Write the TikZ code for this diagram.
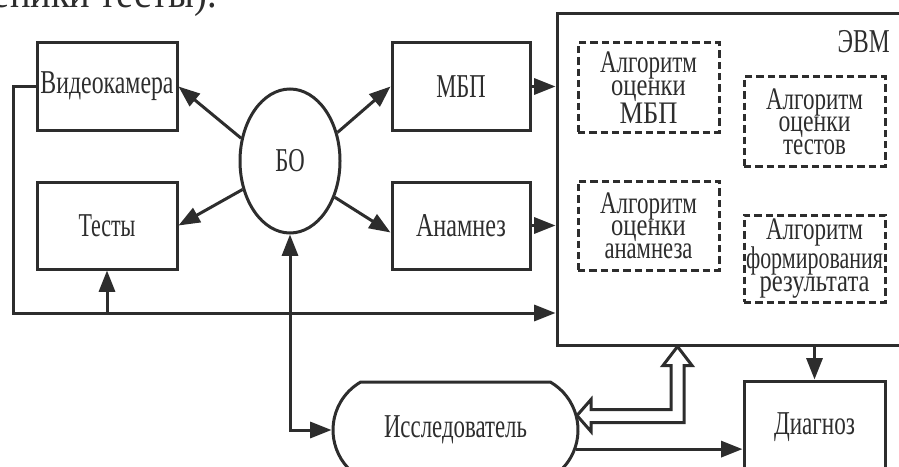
\documentclass[tikz,border=0pt]{standalone}
\usepackage{fontspec}
\setmainfont{Liberation Serif}
\usepackage{graphicx}
\usepackage{tikz}
\usetikzlibrary{arrows.meta,shapes.geometric,shapes.misc,calc}

\definecolor{ink}{RGB}{45,45,45}
% narrow type, as in the scan: squeeze a word to a given width
\newcommand{\fitw}[2]{\resizebox{#1}{\height}{#2}}

\tikzset{
  blk/.style={draw=ink, line width=2.25pt, inner sep=0pt, minimum width=105pt, minimum height=65.25pt, text=ink, font=\fontsize{25}{27}\selectfont},
  algbox/.style={draw=ink, line width=2.25pt, dash pattern=on 5.5pt off 3pt, inner sep=0pt, minimum width=105.75pt, minimum height=66.75pt, align=center, text=ink, font=\fontsize{23.5}{15.5}\selectfont},
  link/.style={draw=ink, line width=2.25pt, -{Triangle[length=16pt,width=12pt]}},
  twoway/.style={draw=ink, line width=2.25pt, {Triangle[length=16pt,width=12pt]}-{Triangle[length=16pt,width=12pt]}}
}

\begin{document}
\begin{tikzpicture}[x=0.75pt,y=0.75pt,yscale=-1,xscale=1]
\useasboundingbox (0,0) rectangle (899,467);

% Text Node (line of the page above, cut off)
\node [anchor=base east, inner sep=0pt, text=ink, font=\fontsize{32}{34}\selectfont] (pagetxt) at (217,8) {\scalebox{0.9}[1]{еники тесты).}};

%Shape: Rectangle [ЭВМ]
\node [draw=ink, line width=2.25pt, minimum width=268.5pt, minimum height=248.25pt] (evm) at (736,179.5) {};
\node [anchor=north east, inner sep=0pt, text=ink, font=\fontsize{25}{27}\selectfont] (evmlbl) at (890,30) {\fitw{39pt}{ЭВМ}};

%Shape: Rectangle
\node [blk] (vid) at (107,86.5) {\fitw{99.75pt}{Видеокамера}};
\node [blk] (tst) at (107,225.5) {\fitw{42.75pt}{Тесты}};
\node [blk, minimum width=103.5pt] (mbp) at (461,86.5) {\fitw{37pt}{МБП}};
\node [blk, minimum width=103.5pt] (anm) at (461,225.5) {\fitw{67.5pt}{Анамнез}};
\node [blk, minimum width=105.75pt, minimum height=69pt] (dgn) at (814.5,427) {\fitw{60.75pt}{Диагноз}};

%Shape: Ellipse
\node [draw=ink, line width=2.25pt, ellipse, inner sep=0pt, minimum width=75pt, minimum height=108pt, text=ink, font=\fontsize{25}{27}\selectfont] (bo) at (290,161) {\fitw{22pt}{БО}};

%Shape: Rounded Rectangle
\node [draw=ink, line width=2.25pt, rounded rectangle, rounded rectangle arc length=120, inner sep=0pt, minimum width=183.75pt, minimum height=72pt, text=ink, font=\fontsize{25}{27}\selectfont] (ivs) at (455.5,430) {\fitw{107.25pt}{Исследователь}};

%Shape: Dashed Rectangles
\node [algbox] (amb) at (648.5,87.5) {\fitw{72.75pt}{Алгоритм}\\\fitw{56pt}{оценки}\\\fitw{43.5pt}{МБП}};
\node [algbox] (ats) at (814.5,121.5) {\fitw{72.75pt}{Алгоритм}\\\fitw{54pt}{оценки}\\\fitw{47.25pt}{тестов}};
\node [algbox] (aan) at (648.5,225.5) {\fitw{72.75pt}{Алгоритм}\\\fitw{56pt}{оценки}\\\fitw{66pt}{анамнеза}};
\node [algbox, minimum height=65.25pt] (afr) at (814.5,258.5) {\fitw{72.75pt}{Алгоритм}\\\fitw{102.75pt}{формирования}\\\fitw{82.5pt}{результата}};

%Straight Lines
\coordinate (busL) at (13,313);
\draw [link] (vid.west) -| (busL) -- (evm.west |- busL);
\draw [link] (tst.south |- busL) -- (tst.south);

\draw [link] (bo.155) -- (vid.east);
\draw [link] (bo.211) -- (tst.east);
\draw [link] (bo.31) -- (mbp.west);
\draw [link] (bo.321) -- ($(anm.west)+(0,7)$);

\draw [link] (mbp.east) -- (mbp.east -| evm.west);
\draw [link] (anm.east) -- (anm.east -| evm.west);

\draw [twoway] (bo.south) |- (ivs.west);

%Hollow double arrow
\coordinate (hT) at (evm.south -| 677.5,0);
\draw [draw=ink, line width=2.25pt, line join=miter] (hT) -- ++(14.5,19) -- ++(-8,0) -- ++(0,57) -- ++(-93,0) -- ++(0,9) -- ++(-14,-16) -- ++(14,-16) -- ++(0,10) -- ++(80,0) -- ++(0,-44) -- ++(-8,0) -- cycle;

\draw [link] (ivs.351) -- (ivs.351 -| dgn.west);
\draw [link] (dgn.north |- evm.south) -- (dgn.north);

\end{tikzpicture}
\end{document}
